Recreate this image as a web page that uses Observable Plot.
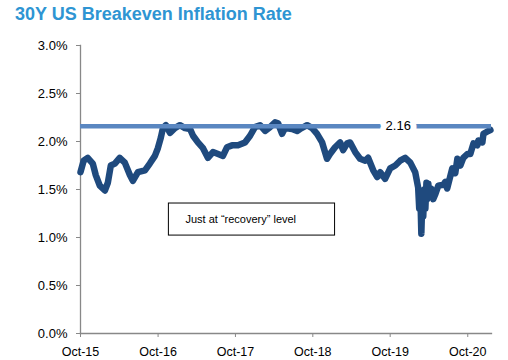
<!DOCTYPE html>
<html>
<head>
<meta charset="utf-8">
<script src="https://cdn.jsdelivr.net/npm/d3@7"></script>
<script src="https://cdn.jsdelivr.net/npm/@observablehq/plot@0.6"></script>
<style>
  html, body { margin: 0; padding: 0; background: #fff; }
  body { width: 508px; height: 360px; overflow: hidden; font-family: "Liberation Sans", Arial, sans-serif; }
  #title { padding: 5px 0 7px 15px; height: 18px; line-height: 18px; font-size: 18px; font-weight: bold; color: #2E95D3; white-space: nowrap; }
</style>
</head>
<body>
<div id="title">30Y US Breakeven Inflation Rate</div>
<div id="chart"></div>
<script>
const dates = [
  "2015-10-01","2015-10-16","2015-11-04","2015-11-28","2015-12-12","2015-12-31",
  "2016-01-24","2016-02-07","2016-02-21","2016-03-11","2016-04-03","2016-04-27",
  "2016-05-21","2016-06-04","2016-06-28","2016-07-31","2016-08-23","2016-09-16",
  "2016-09-30","2016-10-14","2016-10-24","2016-11-07","2016-11-26","2016-12-19",
  "2017-01-12","2017-02-05","2017-03-01","2017-03-15","2017-04-07","2017-05-01",
  "2017-05-24","2017-06-17","2017-07-11","2017-08-03","2017-08-22","2017-09-15",
  "2017-10-13","2017-11-15","2017-12-09","2018-01-01","2018-01-25","2018-02-18",
  "2018-03-13","2018-04-06","2018-04-20","2018-05-09","2018-05-23","2018-06-25",
  "2018-07-19","2018-08-02","2018-09-04","2018-09-28","2018-10-21","2018-11-14",
  "2018-12-07","2018-12-21","2019-01-14","2019-02-07","2019-02-21","2019-03-12",
  "2019-03-26","2019-04-19","2019-05-12","2019-06-05","2019-06-19","2019-07-13",
  "2019-08-01","2019-08-15","2019-09-07","2019-10-01","2019-10-25","2019-11-17",
  "2019-12-11","2020-01-04","2020-01-27","2020-02-10","2020-02-15","2020-02-20",
  "2020-02-25","2020-02-29","2020-03-05","2020-03-10","2020-03-15","2020-03-20",
  "2020-03-24","2020-03-29","2020-04-02","2020-04-12","2020-04-21","2020-05-01",
  "2020-05-15","2020-06-08","2020-06-17","2020-06-26","2020-07-20","2020-08-03",
  "2020-08-13","2020-08-27","2020-09-10","2020-09-29","2020-10-13","2020-10-28",
  "2020-11-15","2020-11-20","2020-12-09","2020-12-14","2021-01-06","2021-01-16"
];
const values = [
  1.68, 1.80, 1.83, 1.77, 1.65, 1.54,
  1.49, 1.57, 1.75, 1.77, 1.83, 1.78,
  1.65, 1.59, 1.68, 1.70, 1.77, 1.85,
  1.93, 2.04, 2.14, 2.17, 2.09, 2.14,
  2.17, 2.14, 2.13, 2.06, 1.99, 1.93,
  1.83, 1.89, 1.87, 1.85, 1.94, 1.96,
  1.96, 1.99, 2.06, 2.15, 2.17, 2.11,
  2.15, 2.20, 2.19, 2.08, 2.14, 2.13,
  2.11, 2.13, 2.17, 2.14, 2.08, 1.99,
  1.82, 1.87, 1.94, 1.99, 1.91, 1.98,
  1.99, 1.89, 1.82, 1.80, 1.83, 1.70,
  1.63, 1.68, 1.61, 1.72, 1.75, 1.80,
  1.83, 1.78, 1.68, 1.52, 1.30, 1.48,
  1.04, 1.35, 1.22, 1.50, 1.30, 1.57,
  1.40, 1.56, 1.42, 1.51, 1.40, 1.45,
  1.54, 1.55, 1.58, 1.51, 1.72, 1.67,
  1.82, 1.75, 1.83, 1.87, 1.87, 1.98,
  1.96, 2.01, 1.99, 2.08, 2.11, 2.12
];
const xDomain = ["2015-10-01", "2021-01-21"];
const xTickLabels = ["Oct-15", "Oct-16", "Oct-17", "Oct-18", "Oct-19", "Oct-20"];
const xTickDates = ["2015-10-01", "2016-10-01", "2017-10-01", "2018-10-01", "2019-10-01", "2020-10-01"];
const yTicks = [0, 0.5, 1.0, 1.5, 2.0, 2.5, 3.0];
const recoveryLevel = [2.16];
const recoveryLabel = ["2.16"];
const recoveryLabelDate = ["2019-11-08"];
const noteText = ["Just at \u201crecovery\u201d level"];
const noteBox = { x1: "2016-11-21", x2: "2019-01-14", y1: 1.02, y2: 1.354 };
const noteAnchor = { x: "2017-10-26", y: 1.19 };

const parse = d3.utcParse("%Y-%m-%d");
const series = dates.map((d, i) => ({ date: parse(d), value: values[i] }));
const tickDates = xTickDates.map(parse);
const tickLabelOf = new Map(tickDates.map((d, i) => [+d, xTickLabels[i]]));

const chart = Plot.plot({
  width: 508,
  height: 330,
  marginLeft: 80,
  marginRight: 17,
  marginTop: 15,
  marginBottom: 27,
  style: { fontFamily: "'Liberation Sans', Arial, sans-serif", fontSize: "13px", color: "#000", background: "#fff" },
  x: { type: "utc", domain: xDomain.map(parse) },
  y: { domain: [0, 3] },
  marks: [
    Plot.axisY({ ticks: yTicks, tickFormat: d => d.toFixed(1) + "%", tickSize: 4, tickPadding: 9, stroke: "#888", fontSize: 13, label: null }),
    Plot.axisX({ ticks: tickDates, tickFormat: d => tickLabelOf.get(+d), tickSize: 4, tickPadding: 10, stroke: "#888", fontSize: 12.5, label: null }),
    Plot.frame({ anchor: "left", stroke: "#888", strokeWidth: 1.3 }),
    Plot.frame({ anchor: "bottom", stroke: "#888", strokeWidth: 1.3 }),
    Plot.rect([noteBox], { x1: d => parse(d.x1), x2: d => parse(d.x2), y1: "y1", y2: "y2", fill: "#fff", stroke: "#000", strokeWidth: 1 }),
    Plot.text([noteAnchor], { x: d => parse(d.x), y: "y", text: () => noteText[0], fontSize: 11, fill: "#000" }),
    Plot.line(series, { x: "date", y: "value", stroke: "#1F4A7E", strokeWidth: 6.5, strokeLinejoin: "round", strokeLinecap: "round" }),
    Plot.ruleY(recoveryLevel, { stroke: "#5A87C1", strokeWidth: 4.5 }),
    Plot.text(recoveryLevel, { x: () => parse(recoveryLabelDate[0]), y: d => d, text: (d, i) => recoveryLabel[i], fontSize: 13, fill: "#000", stroke: "#fff", strokeWidth: 12 })
  ]
});
document.getElementById("chart").appendChild(chart);
</script>
</body>
</html>
